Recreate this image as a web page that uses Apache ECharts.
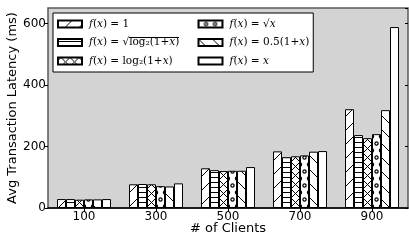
<!DOCTYPE html>
<html>
<head>
<meta charset="utf-8">
<script src="https://cdn.jsdelivr.net/npm/echarts@6/dist/echarts.min.js"></script>
<style>
html,body{margin:0;padding:0;background:#fff;}
#chart{width:409px;height:242px;}
</style>
</head>
<body>
<div id="chart"></div>
<script>
// ---- data ----
var categories = ['100', '300', '500', '700', '900'];
var seriesNames = ['f(x)=1', 'f(x)=sqrt(log2(1+x))', 'f(x)=log2(1+x)', 'f(x)=sqrt(x)', 'f(x)=0.5(1+x)', 'f(x)=x'];
var valConst   = [29, 77, 129, 184, 321];
var valSqrtLog = [29, 78, 123, 165, 237];
var valLog     = [27, 77, 120, 168, 227];
var valSqrt    = [28, 71, 121, 171, 240];
var valHalf    = [28, 70, 121, 183, 318];
var valLinear  = [29, 80, 133, 185, 588];
var yTicks = [0, 200, 400, 600];

// ---- hatch patterns ----
function tile(w, h, draw) {
  var c = document.createElement('canvas');
  c.width = w; c.height = h;
  var g = c.getContext('2d');
  g.fillStyle = '#fff'; g.fillRect(0, 0, w, h);
  g.strokeStyle = '#000'; g.fillStyle = '#000'; g.lineWidth = 1;
  draw(g, w, h);
  return {image: c, repeat: 'repeat'};
}
var patSlash = tile(14, 14, function (g) {
  [0, 14, 28].forEach(function (k) { g.beginPath(); g.moveTo(k + 1, -1); g.lineTo(-1, k + 1); g.stroke(); });
});
var patBack = tile(14, 14, function (g) {
  [-14, 0, 14].forEach(function (k) { g.beginPath(); g.moveTo(k - 1, -1); g.lineTo(k + 15, 15); g.stroke(); });
});
var patHoriz = tile(4, 5, function (g) { g.fillRect(0, 2, 4, 1); });
var patCross = tile(9, 9, function (g) {
  [3, -6, 12].forEach(function (o) {
    g.beginPath(); g.moveTo(o, 0); g.lineTo(o + 9, 9); g.stroke();
    g.beginPath(); g.moveTo(o + 9, 0); g.lineTo(o, 9); g.stroke();
  });
});
var patDots = tile(9, 14, function (g) {
  g.lineWidth = 1.2;
  [[7.5, 3.5], [3, 10.5], [12, 10.5], [-1.5, 3.5]].forEach(function (p) {
    g.beginPath(); g.arc(p[0], p[1], 1.6, 0, Math.PI * 2); g.stroke();
  });
});
var patPlain = '#ffffff';

// overline background for sqrt
var ovc = document.createElement('canvas');
ovc.width = 10; ovc.height = 28;
(function () { var g = ovc.getContext('2d'); g.fillStyle = '#000'; g.fillRect(0, 0, 10, 2); })();

var patterns = [patSlash, patHoriz, patCross, patDots, patBack, patPlain];
var values = [valConst, valSqrtLog, valLog, valSqrt, valHalf, valLinear];

var labels = {
  'f(x)=1': '{i|f}{r|(}{i|x}{r|) = 1}',
  'f(x)=sqrt(log2(1+x))': '{i|f}{r|(}{i|x}{r|) = √}{ro|log₂(1+}{io|x}{ro|)}',
  'f(x)=log2(1+x)': '{i|f}{r|(}{i|x}{r|) = log₂(1+}{i|x}{r|)}',
  'f(x)=sqrt(x)': '{i|f}{r|(}{i|x}{r|) = √}{io|x}',
  'f(x)=0.5(1+x)': '{i|f}{r|(}{i|x}{r|) = 0.5(1+}{i|x}{r|)}',
  'f(x)=x': '{i|f}{r|(}{i|x}{r|) = }{i|x}'
};

var series = seriesNames.map(function (n, idx) {
  return {
    name: n,
    type: 'bar',
    data: values[idx],
    barWidth: 9,
    barGap: '0%',
    itemStyle: {color: patterns[idx], borderColor: '#000', borderWidth: 1},
    emphasis: {disabled: true},
    animation: false
  };
});

var serifBase = {fontFamily: 'DejaVu Serif', fontSize: 10.5, color: '#000', lineHeight: 14};
var rich = {
  i: Object.assign({}, serifBase, {fontStyle: 'italic'}),
  r: Object.assign({}, serifBase),
  ro: Object.assign({}, serifBase, {backgroundColor: {image: ovc}}),
  io: Object.assign({}, serifBase, {fontStyle: 'italic', backgroundColor: {image: ovc}})
};

var chart = echarts.init(document.getElementById('chart'), null, {renderer: 'canvas'});
chart.setOption({
  animation: false,
  textStyle: {fontFamily: 'DejaVu Sans', color: '#000'},
  grid: {left: 48, right: 1, top: 8, bottom: 34, show: true, backgroundColor: '#d3d3d3', borderColor: '#5a5a5a', borderWidth: 1.5,
    containLabel: false, outerBoundsMode: 'none'},
  legend: {
    left: 53, top: 13, orient: 'vertical', height: 52,
    padding: [4, 4, 4, 4], itemGap: 4.5,
    itemWidth: 24, itemHeight: 7,
    backgroundColor: '#fff', borderColor: '#000', borderWidth: 1, borderRadius: 0,
    icon: 'rect',
    selectedMode: false,
    formatter: function (n) { return labels[n]; },
    textStyle: {rich: rich, padding: [0, 0, 0, 2], lineHeight: 14},
    data: seriesNames.map(function (n, idx) {
      return {name: n, textStyle: {width: idx < 3 ? 104 : 72}};
    })
  },
  xAxis: [{
    type: 'category', data: categories, position: 'bottom',
    axisLine: {lineStyle: {color: '#000', width: 1.5}},
    axisTick: {show: false},
    axisLabel: {fontSize: 12, color: '#000', margin: 3, fontFamily: 'DejaVu Sans'},
    name: '# of Clients', nameLocation: 'middle', nameGap: 14, nameMoveOverlap: false,
    nameTextStyle: {fontSize: 13, color: '#000', fontFamily: 'DejaVu Sans'}
  }, {
    type: 'category', data: categories, position: 'top',
    axisLine: {show: false},
    axisTick: {show: true, inside: true, alignWithLabel: true, length: 3, lineStyle: {color: '#000'}},
    axisLabel: {show: false}
  }],
  yAxis: [{
    type: 'value', min: 0, max: 650, interval: 200,
    axisLine: {show: false},
    axisTick: {show: true, length: 3, lineStyle: {color: '#000'}},
    axisLabel: {fontSize: 12, color: '#000', margin: 2, showMaxLabel: false, fontFamily: 'DejaVu Sans',
      formatter: function (v) { return yTicks.indexOf(v) >= 0 ? String(v) : ''; }},
    splitLine: {show: false},
    name: 'Avg Transaction Latency (ms)', nameLocation: 'middle', nameGap: 29, nameMoveOverlap: false,
    nameTextStyle: {fontSize: 13, color: '#000', fontFamily: 'DejaVu Sans'}
  }, {
    type: 'value', min: 0, max: 650, interval: 200, position: 'right',
    axisLine: {show: false},
    axisTick: {show: true, inside: true, length: 3, lineStyle: {color: '#000'}},
    axisLabel: {show: false},
    splitLine: {show: false}
  }],
  series: series
});
</script>
</body>
</html>
